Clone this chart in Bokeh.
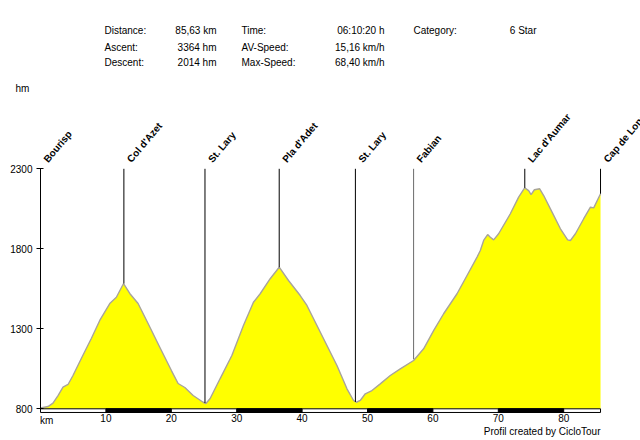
import math
from bokeh.plotting import figure
from bokeh.models import Range1d, FixedTicker, LinearAxis
from bokeh.core.properties import value
from bokeh.embed import file_html
from bokeh.resources import INLINE

# ---- data ----
km = [0, 1.15, 1.91, 2.68, 3.44, 4.21, 4.97, 6.24, 7.77, 9.06, 10.59, 11.6, 12.7, 13.65,
      14.92, 16.45, 18.24, 20.02, 21.04, 22.07, 23.34, 24.87, 25.3, 25.94, 27.47, 29.26,
      31.03, 32.56, 33.59, 35.12, 36.5, 37.92, 39.71, 40.74, 42.27, 43.8, 45.33, 46.86,
      47.87, 48.3, 48.89, 49.66, 50.68, 51.95, 53.48, 55.01, 57.05, 58.58, 60.11, 61.64,
      63.69, 65.22, 66.75, 67.25, 67.76, 68.37, 68.78, 69.29, 70.05, 71.84, 73.11, 74.03,
      74.64, 75.01, 75.52, 76.33, 76.94, 78.22, 79.5, 80.61, 81.03, 81.79, 83.06, 84.09,
      84.59, 85.63]
elev = [805, 814, 835, 883, 935, 952, 1008, 1114, 1239, 1352, 1458, 1497, 1583, 1521,
        1458, 1333, 1185, 1039, 958, 933, 883, 841, 833, 864, 989, 1133,
        1321, 1466, 1519, 1613, 1685, 1602, 1508, 1446, 1321, 1196, 1071, 925,
        852, 841, 852, 894, 914, 956, 1008, 1050, 1102, 1175, 1289, 1394,
        1519, 1633, 1748, 1789, 1852, 1889, 1872, 1856, 1894, 2019, 2123, 2181,
        2164, 2139, 2169, 2175, 2133, 2029, 1925, 1856, 1852, 1894, 1988, 2060,
        2056, 2144]

place_names = ["Bourisp", "Col d'Azet", "St. Lary", "Pla d'Adet", "St. Lary",
               "Fabian", "Lac d'Aumar", "Cap de Long"]
place_km = [0, 12.75, 25.15, 36.5, 48.15, 57.05, 74.05, 85.63]
place_elev = [800, 1583, 836, 1685, 843, 1110, 2181, 2144]
place_color = ["black", "black", "black", "black", "black", "#6a6a6a", "black", "black"]

y_ticks = [800, 1300, 1800, 2300]
x_ticks = [10, 20, 30, 40, 50, 60, 70, 80]
total_km = 85.63

hdr_labels1 = ["Distance:", "Ascent:", "Descent:"]
hdr_values1 = ["85,63 km", "3364 hm", "2014 hm"]
hdr_labels2 = ["Time:", "AV-Speed:", "Max-Speed:"]
hdr_values2 = ["06:10:20 h", "15,16 km/h", "68,40 km/h"]
hdr_labels3 = ["Category:"]
hdr_values3 = ["6 Star"]

# ---- layout helpers (pixel -> data); the frame covers the whole canvas ----
PXK = 6.54      # px per km
PYH = 0.16      # px per hm


def X(px):
    return (px - 40) / PXK


def Y(py):
    return 800 + (408.3 - py) / PYH


FONTNAME = "Liberation Sans"
FONT = value(FONTNAME)

p = figure(width=640, height=440, x_range=Range1d(X(0), X(640)),
           y_range=Range1d(Y(440), Y(0)), output_backend="svg",
           toolbar_location=None, x_axis_location=None, y_axis_location=None,
           min_border=0)
p.outline_line_color = None
p.xgrid.visible = False
p.ygrid.visible = False
p.background_fill_color = "white"
p.border_fill_color = "white"

# profile
p.varea(x=km, y1=[800] * len(km), y2=elev, fill_color="#ffff00")
p.line(x=km, y=elev, line_color="#a8a49a", line_width=1.4)

# marker lines
p.segment(x0=place_km, y0=[2300] * len(place_km), x1=place_km, y1=place_elev,
          line_color=place_color, line_width=1)

# scale bar
p.quad(left=[0], right=[total_km], bottom=[777], top=[800], fill_color="white",
       line_color="black", line_width=1)
p.quad(left=x_ticks[0::2], right=x_ticks[1::2], bottom=777, top=800,
       fill_color="black", line_color="black")

# rotated place names
p.text(x=[k + 5 / PXK for k in place_km], y=[Y(160.5)] * len(place_km), text=place_names,
       angle=math.radians(50), text_font=FONT, text_font_size="10px",
       text_font_style="bold", text_align="left", text_baseline="alphabetic",
       text_color="black")

# header
rows = [Y(30), Y(46.5), Y(62)]
for labels, px, align in [(hdr_labels1, 104, "left"), (hdr_values1, 216, "right"),
                          (hdr_labels2, 241, "left"), (hdr_values2, 384, "right"),
                          (hdr_labels3, 413, "left"), (hdr_values3, 536, "right")]:
    p.text(x=[X(px)] * len(labels), y=rows[:len(labels)], text=labels,
           text_font=FONT, text_font_size="10px", text_align=align,
           text_baseline="middle", text_color="black")

# unit and credit texts
p.text(x=[X(15)], y=[Y(88)], text=["hm"], text_font=FONT, text_font_size="10px",
       text_align="left", text_baseline="middle", text_color="black")
p.text(x=[X(39.5)], y=[Y(419.5)], text=["km"], text_font=FONT, text_font_size="10px",
       text_align="left", text_baseline="middle", text_color="black")
p.text(x=[X(600)], y=[Y(431)], text=["Profil created by CicloTour"], text_font=FONT,
       text_font_size="10px", text_align="right", text_baseline="middle",
       text_color="black")

# axes drawn at fixed data locations
yax = LinearAxis(fixed_location=0, bounds=(800, 2300), ticker=FixedTicker(ticks=y_ticks))
yax.minor_tick_line_color = None
yax.major_tick_in = 3
yax.major_tick_out = 4
yax.major_label_standoff = 4
yax.axis_line_color = "black"
yax.major_tick_line_color = "black"
yax.major_label_text_font = FONTNAME
yax.major_label_text_font_size = "10px"
yax.major_label_text_color = "black"
p.add_layout(yax, "left")

xax = LinearAxis(fixed_location=777, bounds=(0, total_km), ticker=FixedTicker(ticks=x_ticks))
xax.axis_line_color = None
xax.major_tick_line_color = None
xax.minor_tick_line_color = None
xax.major_tick_in = 0
xax.major_tick_out = 0
xax.major_label_standoff = 2
xax.major_label_text_font = FONTNAME
xax.major_label_text_font_size = "10px"
xax.major_label_text_color = "black"
p.add_layout(xax, "below")

open("out.html", "w").write(file_html(p, INLINE))
